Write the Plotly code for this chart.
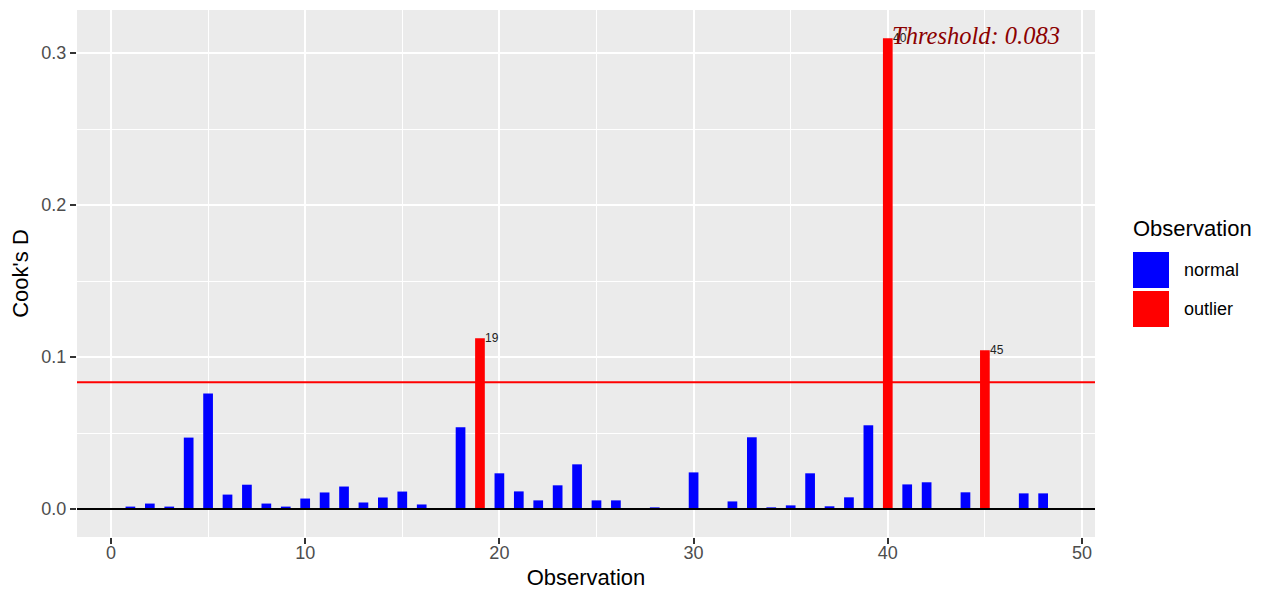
import plotly.graph_objects as go

# Cook's distance per observation
observation = list(range(1, 49))
cooks_d = [
    0.0016, 0.0036, 0.0016, 0.0470, 0.0760, 0.0095, 0.0160, 0.0036, 0.0016, 0.0069,
    0.0109, 0.0148, 0.0043, 0.0076, 0.0115, 0.0030, 0.0003, 0.0538, 0.1123, 0.0235,
    0.0116, 0.0057, 0.0156, 0.0294, 0.0057, 0.0057, 0.0002, 0.0011, 0.0004, 0.0241,
    0.0003, 0.0050, 0.0472, 0.0011, 0.0024, 0.0235, 0.0018, 0.0077, 0.0551, 0.3097,
    0.0162, 0.0176, 0.0002, 0.0110, 0.1044, 0.0003, 0.0103, 0.0103,
]
group_names = ["normal", "outlier"]
group_colors = ["#0000FF", "#FF0000"]
x_ticks = [0, 10, 20, 30, 40, 50]
y_ticks = [0.0, 0.1, 0.2, 0.3]
y_tick_labels = ["0.0", "0.1", "0.2", "0.3"]

threshold = 4 / len(observation)
is_outlier = [d > threshold for d in cooks_d]

# panel geometry (pixels)
W, H = 1282, 590
L, R, T, B = 77, 1095, 10, 537
PW, PH = R - L, B - T

def px_x(p):
    return (p - L) / PW

def px_y(p):
    return (B - p) / PH

fig = go.Figure()
for gi, name in enumerate(group_names):
    xs = [o for o, f in zip(observation, is_outlier) if f == bool(gi)]
    ys = [d for d, f in zip(cooks_d, is_outlier) if f == bool(gi)]
    fig.add_trace(go.Bar(
        x=xs, y=ys, width=0.5, name=name,
        marker=dict(color=group_colors[gi], line=dict(width=0)),
        showlegend=False,
    ))

# labels for the influential observations
for o, d, f in zip(observation, cooks_d, is_outlier):
    if f:
        fig.add_annotation(
            x=o + 0.25, y=d, text=str(o), showarrow=False,
            xanchor="left", yanchor="middle", xshift=-2,
            font=dict(family="Liberation Sans", size=12, color="#222222"),
        )

max_i = cooks_d.index(max(cooks_d))
fig.add_annotation(
    x=observation[max_i], y=cooks_d[max_i], text=f"Threshold: {threshold:.3f}",
    showarrow=False, xanchor="left", yanchor="middle", xshift=2, yshift=3,
    font=dict(family="Liberation Serif", size=24.5, color="#8B0000", style="italic"),
)

# reference lines
fig.add_shape(type="line", xref="x domain", yref="y", x0=0, x1=1, y0=threshold, y1=threshold,
              line=dict(color="#FF0000", width=2))
fig.add_shape(type="line", xref="x domain", yref="y", x0=0, x1=1, y0=0, y1=0,
              line=dict(color="#000000", width=2))

# legend
fig.add_annotation(
    xref="paper", yref="paper", x=px_x(1131), y=px_y(228), text="Observation",
    showarrow=False, xanchor="left", yanchor="middle",
    font=dict(family="Liberation Sans", size=22, color="#000000"),
)
key_tops = [252, 291]
for name, color, top in zip(group_names, group_colors, key_tops):
    fig.add_shape(type="rect", xref="paper", yref="paper",
                  x0=px_x(1133), x1=px_x(1169), y0=px_y(top + 36), y1=px_y(top),
                  fillcolor=color, line=dict(width=0))
    fig.add_annotation(
        xref="paper", yref="paper", x=px_x(1182), y=px_y(top + 18), text=name,
        showarrow=False, xanchor="left", yanchor="middle",
        font=dict(family="Liberation Sans", size=18, color="#000000"),
    )

axis_common = dict(
    showline=False, zeroline=False, automargin=False,
    gridcolor="#FFFFFF", gridwidth=1.8,
    ticks="outside", ticklen=6, tickwidth=1.5, tickcolor="#333333",
    tickfont=dict(family="Liberation Sans", size=18, color="#4D4D4D"),
)

fig.update_layout(
    width=W, height=H,
    margin=dict(l=L, r=W - R, t=T, b=H - B, pad=0),
    paper_bgcolor="#FFFFFF", plot_bgcolor="#EBEBEB",
    barmode="overlay", showlegend=False,
    xaxis=dict(
        range=[-1.75, 50.67], tickvals=x_ticks, ticklabelstandoff=-7,
        minor=dict(dtick=5, tick0=0, showgrid=True, gridcolor="#FFFFFF", gridwidth=0.9, ticks=""),
        title=dict(text="Observation", standoff=10,
                   font=dict(family="Liberation Sans", size=22, color="#000000")),
        **axis_common,
    ),
    yaxis=dict(
        range=[-0.0184, 0.3283], tickvals=y_ticks, ticktext=y_tick_labels,
        minor=dict(dtick=0.05, tick0=0, showgrid=True, gridcolor="#FFFFFF", gridwidth=0.9, ticks=""),
        title=dict(text="Cook's D", standoff=6,
                   font=dict(family="Liberation Sans", size=22, color="#000000")),
        **axis_common,
    ),
)

fig.write_html("out.html")
